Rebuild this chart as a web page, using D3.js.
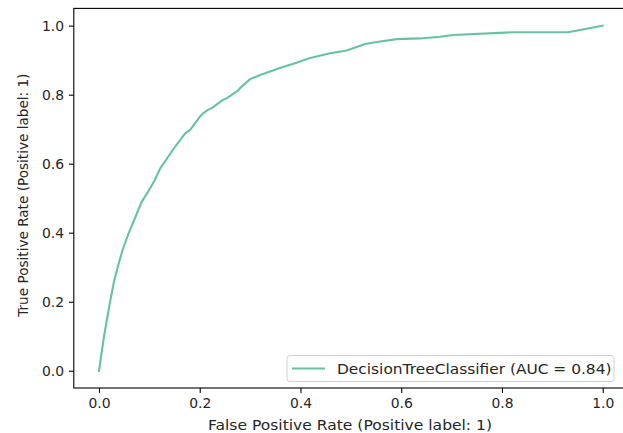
<!DOCTYPE html>
<html>
<head>
<meta charset="utf-8">
<script src="https://cdn.jsdelivr.net/npm/d3@7"></script>
<style>
  html, body { margin: 0; padding: 0; background: #fff; }
  svg { display: block; }
  text { font-family: "DejaVu Sans", sans-serif; fill: #262626; }
</style>
</head>
<body>
<svg id="chart" width="623" height="433"></svg>
<script>
// ROC curve of a DecisionTreeClassifier
const fpr = [0, 0.010, 0.016, 0.022, 0.030, 0.038, 0.048, 0.058, 0.075, 0.085, 0.100, 0.111, 0.121, 0.151, 0.171, 0.181, 0.2, 0.207, 0.216, 0.224, 0.246, 0.254, 0.277, 0.28, 0.30, 0.32, 0.359, 0.389, 0.419, 0.459, 0.492, 0.528, 0.558, 0.591, 0.637, 0.677, 0.703, 0.822, 0.931, 1.0];
const tpr = [0, 0.10, 0.15, 0.20, 0.26, 0.305, 0.355, 0.395, 0.455, 0.49, 0.525, 0.553, 0.585, 0.649, 0.688, 0.698, 0.736, 0.746, 0.756, 0.761, 0.785, 0.79, 0.813, 0.819, 0.845, 0.857, 0.877, 0.891, 0.906, 0.92, 0.928, 0.947, 0.954, 0.961, 0.963, 0.968, 0.973, 0.981, 0.981, 1.0];
const xTicks = [0, 0.2, 0.4, 0.6, 0.8, 1.0];
const yTicks = [0, 0.2, 0.4, 0.6, 0.8, 1.0];
const seriesLabel = "DecisionTreeClassifier (AUC = 0.84)";
const xTitle = "False Positive Rate (Positive label: 1)";
const yTitle = "True Positive Rate (Positive label: 1)";

const lineColor = "#66c2a5";
const fontSize = "13.9px";

const svg = d3.select("#chart");
const plot = { left: 73.8, right: 627.9, top: 8.4, bottom: 388 };

const x = d3.scaleLinear().domain([-0.05, 1.05]).range([plot.left, plot.right]);
const y = d3.scaleLinear().domain([-0.05, 1.05]).range([plot.bottom, plot.top]);

// axes
const xAxis = d3.axisBottom(x).tickValues(xTicks).tickFormat(d3.format(".1f"))
  .tickSizeInner(4.9).tickSizeOuter(0).tickPadding(4.9);
const yAxis = d3.axisLeft(y).tickValues(yTicks).tickFormat(d3.format(".1f"))
  .tickSizeInner(4.9).tickSizeOuter(0).tickPadding(4.9);

const gx = svg.append("g").attr("transform", `translate(0,${plot.bottom})`).call(xAxis);
const gy = svg.append("g").attr("transform", `translate(${plot.left},0)`).call(yAxis);
[gx, gy].forEach(g => {
  g.select(".domain").remove();
  g.selectAll(".tick line").attr("stroke", "#000").attr("stroke-width", 1.1);
  g.selectAll(".tick text").style("font-size", fontSize).style("font-family", "DejaVu Sans").attr("fill", "#262626");
});

// curve
const line = d3.line().x((d, i) => x(fpr[i])).y((d, i) => y(tpr[i]));
svg.append("path")
  .datum(fpr)
  .attr("d", line)
  .attr("fill", "none")
  .attr("stroke", lineColor)
  .attr("stroke-width", 2.1)
  .attr("stroke-linejoin", "round")
  .attr("stroke-linecap", "square");

// frame
svg.append("rect")
  .attr("x", plot.left).attr("y", plot.top)
  .attr("width", plot.right - plot.left).attr("height", plot.bottom - plot.top)
  .attr("fill", "none").attr("stroke", "#000").attr("stroke-width", 1.1);

// axis titles
svg.append("text")
  .attr("x", 208).attr("y", 430)
  .attr("textLength", 284).attr("lengthAdjust", "spacingAndGlyphs")
  .style("font-size", "14px")
  .text(xTitle);
svg.append("text")
  .attr("transform", `translate(28,${(plot.top + plot.bottom) / 2 - 3}) rotate(-90)`)
  .attr("text-anchor", "middle").style("font-size", "13.6px")
  .text(yTitle);

// legend
const legend = svg.append("g");
legend.append("rect")
  .attr("x", 287).attr("y", 355.5).attr("width", 327).attr("height", 26)
  .attr("rx", 3).attr("fill", "#fff").attr("fill-opacity", 0.8)
  .attr("stroke", "#d0d0d0").attr("stroke-width", 1);
legend.append("line")
  .attr("x1", 292).attr("x2", 325).attr("y1", 368.5).attr("y2", 368.5)
  .attr("stroke", lineColor).attr("stroke-width", 2.1);
legend.append("text")
  .attr("x", 337).attr("y", 373.5)
  .attr("textLength", 274.5).attr("lengthAdjust", "spacingAndGlyphs")
  .style("font-size", "13.4px")
  .text(seriesLabel);
</script>
</body>
</html>
